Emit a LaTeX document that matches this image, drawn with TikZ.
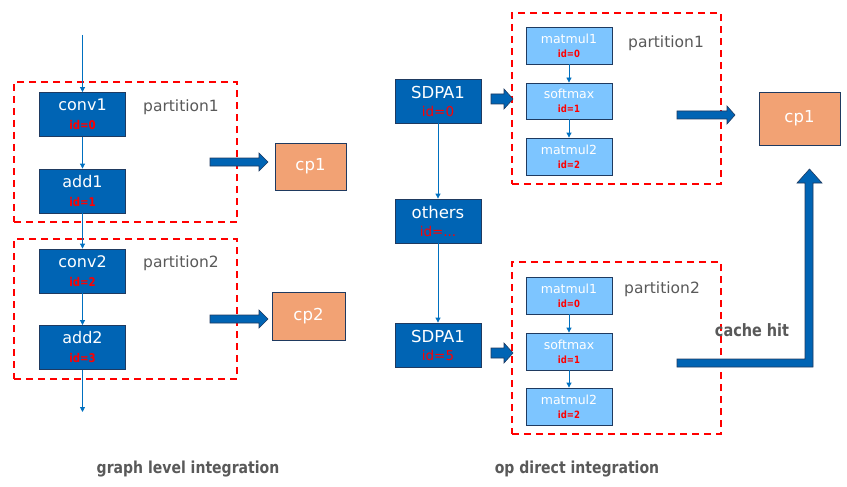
\documentclass[tikz,border=0pt]{standalone}
\usepackage{fontspec}
\setmainfont{DejaVu Sans}
\newfontfamily\lblfont[FakeStretch=0.85]{DejaVu Sans}
\usetikzlibrary{arrows.meta}
\definecolor{dblue}{HTML}{0064B4}
\definecolor{lblue}{HTML}{7DC5FF}
\definecolor{navy}{HTML}{1F3A60}
\definecolor{orng}{HTML}{F2A274}
\definecolor{cblue}{HTML}{0070C0}
\definecolor{pred}{HTML}{FF0000}
\definecolor{gtext}{HTML}{595959}
\tikzset{
  dbox/.style={draw=navy,line width=0.8pt,fill=dblue,text=white,align=center,inner sep=0pt,minimum width=86pt,minimum height=44pt,font=\fontsize{16}{19}\selectfont},
  lbox/.style={draw=navy,line width=0.8pt,fill=lblue,text=white,align=center,inner sep=0pt,minimum width=86pt,minimum height=37pt,font=\fontsize{12.5}{15}\selectfont},
  obox/.style={draw=navy,line width=0.8pt,fill=orng,text=white,inner sep=0pt,font=\fontsize{16.5}{19}\selectfont},
  part/.style={draw=pred,line width=1.5pt,dash pattern=on 7pt off 5pt,inner sep=0pt},
  plabel/.style={text=gtext,anchor=west,inner sep=0pt,font=\fontsize{15.5}{19}\selectfont},
  blabel/.style={text=gtext,inner sep=0pt,font=\lblfont\bfseries\fontsize{16.5}{20}\selectfont},
  conn/.style={draw=cblue,line width=0.8pt,-{Triangle[length=5pt,width=5pt]}},
  barrow/.style={draw=navy,line width=0.6pt,fill=dblue},
}
\newcommand{\idb}[1]{{\color{pred}\lblfont\bfseries\fontsize{12}{13}\selectfont #1}}
\newcommand{\ids}[1]{{\color{pred}\lblfont\bfseries\fontsize{10}{11}\selectfont #1}}
\newcommand{\idr}[1]{{\color{pred}\fontsize{13.5}{15}\selectfont #1}}
\begin{document}
\begin{tikzpicture}[x=1pt,y=-1pt]
\useasboundingbox (0,0) rectangle (847,487);
% partitions
\node[part,minimum width=223pt,minimum height=140pt] (pl1) at (125.5,152) {};
\node[part,minimum width=223pt,minimum height=140pt] (pl2) at (125.5,309) {};
\node[part,minimum width=209pt,minimum height=171pt] (pr1) at (616.5,98.5) {};
\node[part,minimum width=209pt,minimum height=172pt] (pr2) at (616.5,348) {};
% left boxes
\node[dbox] (conv1) at (82.5,114.5) {conv1\\[0pt]\idb{id=0}};
\node[dbox] (add1) at (82.5,191) {add1\\[0pt]\idb{id=1}};
\node[dbox] (conv2) at (82.5,271) {conv2\\[0pt]\idb{id=2}};
\node[dbox] (add2) at (82.5,347.5) {add2\\[0pt]\idb{id=3}};
\node[obox,minimum width=71pt,minimum height=47pt] (cp1) at (310.5,166.5) {cp1};
\node[obox,minimum width=73pt,minimum height=48pt] (cp2) at (308.5,316) {cp2};
\coordinate (ltop) at (82.5,35);
\coordinate (lbot) at (82.5,412);
\draw[conn] (ltop) -- (conv1.north);
\draw[conn] (conv1) -- (add1);
\draw[conn] (add1) -- (conv2);
\draw[conn] (conv2) -- (add2);
\draw[conn] (add2) -- (lbot);
\node[plabel] (lab1) at (143,107) {partition1};
\node[plabel] (lab2) at (143,263) {partition2};
% left block arrows
\draw[barrow] (210,158) -- (259,158) -- (259,153) -- (268,162) -- (259,171) -- (259,166) -- (210,166) -- cycle;
\draw[barrow] (210,315) -- (259,315) -- (259,310) -- (268,319) -- (259,328) -- (259,323) -- (210,323) -- cycle;
% right column
\node[dbox,font=\fontsize{16.5}{19}\selectfont] (sdpa1) at (438,101) {SDPA1\\[-1pt]\idr{id=0}};
\node[dbox,font=\fontsize{16.5}{19}\selectfont] (others) at (438,221) {others\\[-1pt]\idr{id=...}};
\node[dbox,font=\fontsize{16.5}{19}\selectfont] (sdpa2) at (438,345) {SDPA1\\[-1pt]\idr{id=5}};
\draw[conn] (sdpa1) -- (others);
\draw[conn] (others) -- (sdpa2);
% partition 1 right
\node[lbox] (ma1) at (569,45.5) {matmul1\\[-1pt]\ids{id=0}};
\node[lbox,minimum height=36pt] (sa) at (569,101) {softmax\\[-1pt]\ids{id=1}};
\node[lbox] (mb1) at (569,156.5) {matmul2\\[-1pt]\ids{id=2}};
\draw[conn] (ma1) -- (sa);
\draw[conn] (sa) -- (mb1);
\node[plabel] (lab3) at (628,43) {partition1};
% partition 2 right
\node[lbox] (ma2) at (569,295.5) {matmul1\\[-1pt]\ids{id=0}};
\node[lbox] (sb) at (569,351.5) {softmax\\[-1pt]\ids{id=1}};
\node[lbox] (mb2) at (569,406.5) {matmul2\\[-1pt]\ids{id=2}};
\draw[conn] (ma2) -- (sb);
\draw[conn] (sb) -- (mb2);
\node[plabel] (lab4) at (624,289) {partition2};
\node[obox,minimum width=81pt,minimum height=53pt] (cp1r) at (799.5,118.5) {cp1};
% right block arrows
\draw[barrow] (491,94) -- (504,94) -- (504,89) -- (513,99) -- (504,109) -- (504,104) -- (491,104) -- cycle;
\draw[barrow] (491,348) -- (504,348) -- (504,343) -- (513,353) -- (504,363) -- (504,358) -- (491,358) -- cycle;
\draw[barrow] (677,111) -- (727,111) -- (727,106) -- (735,115) -- (727,124) -- (727,119) -- (677,119) -- cycle;
\draw[barrow] (677,359) -- (805,359) -- (805,183) -- (797,183) -- (809.5,169) -- (822,183) -- (813,183) -- (813,367) -- (677,367) -- cycle;
\node[blabel,font=\lblfont\bfseries\fontsize{17}{20}\selectfont] (hit) at (752,330) {cache hit};
% bottom labels
\node[blabel] (g1) at (188,469) {graph level integration};
\node[blabel] (g2) at (577,469) {op direct integration};
\end{tikzpicture}
\end{document}
